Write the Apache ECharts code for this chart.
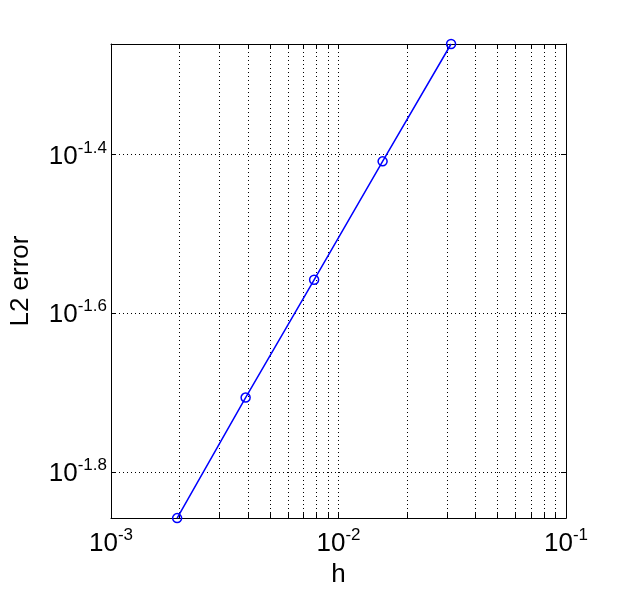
<!DOCTYPE html>
<html>
<head>
<meta charset="utf-8">
<script src="https://cdn.jsdelivr.net/npm/echarts@6/dist/echarts.min.js"></script>
<style>
  html, body { margin: 0; padding: 0; background: #fff; }
  #chart { width: 625px; height: 593px; }
</style>
</head>
<body>
<div id="chart"></div>
<script>
// mesh size h and the L2 error
var hValues = [0.001953, 0.003906, 0.007813, 0.015625, 0.03125];
var l2Error = [0.01386, 0.01966, 0.02767, 0.03901, 0.05483];

// tick positions, as log10 of the value
var xMajorTicks = [-3, -2, -1];
var xMinorMantissa = [2, 3, 4, 5, 6, 7, 8, 9];
var yMajorTicks = [-1.8, -1.6, -1.4];

var FONT = 'Liberation Sans';

var xTicks = [];
xMajorTicks.forEach(function (e) {
    xTicks.push(e);
    if (e < -1) {
        xMinorMantissa.forEach(function (m) { xTicks.push(e + Math.log10(m)); });
    }
});

var points = hValues.map(function (h, i) {
    return [Math.log10(h), Math.log10(l2Error[i])];
});
var yMin = Math.log10(Math.min.apply(null, l2Error));
var yMax = Math.log10(Math.max.apply(null, l2Error));

function powLabel(v) {
    var s = String(Math.round(v * 10) / 10);
    return '{b|10}{s|' + s + '}';
}
var richPow = {
    b: { fontFamily: FONT, fontSize: 26, color: '#000', lineHeight: 30, verticalAlign: 'bottom' },
    s: { fontFamily: FONT, fontSize: 17, color: '#000', lineHeight: 5, verticalAlign: 'top' }
};

var frameLine = { show: true, onZero: false, lineStyle: { color: '#000', width: 1 } };
var gridDots = { show: true, lineStyle: { color: '#000', width: 1, type: [1, 3] } };

var chart = echarts.init(document.getElementById('chart'));
chart.setOption({
    backgroundColor: '#fff',
    animation: false,
    grid: { left: 106, right: 59, top: 44, bottom: 73 },
    xAxis: [{
        type: 'value', min: -3, max: -1, position: 'bottom',
        axisLine: frameLine,
        axisTick: { show: true, inside: true, length: 5, customValues: xTicks, lineStyle: { color: '#000' } },
        axisLabel: { customValues: xMajorTicks, formatter: powLabel, rich: richPow, margin: 9 },
        splitLine: gridDots,
        name: 'h', nameLocation: 'middle', nameGap: 32,
        nameTextStyle: { fontFamily: FONT, fontSize: 26, color: '#000' }
    }, {
        type: 'value', min: -3, max: -1, position: 'top',
        axisLine: frameLine,
        axisTick: { show: true, inside: true, length: 5, customValues: xTicks, lineStyle: { color: '#000' } },
        axisLabel: { show: false },
        splitLine: { show: false }
    }],
    yAxis: [{
        type: 'value', min: yMin, max: yMax, position: 'left',
        axisLine: frameLine,
        axisTick: { show: true, inside: true, length: 5, customValues: yMajorTicks, lineStyle: { color: '#000' } },
        axisLabel: { customValues: yMajorTicks, formatter: powLabel, rich: richPow, margin: 4 },
        splitLine: gridDots,
        name: 'L2 error', nameLocation: 'middle', nameGap: 77, nameRotate: 90,
        nameTextStyle: { fontFamily: FONT, fontSize: 26, color: '#000' }
    }, {
        type: 'value', min: yMin, max: yMax, position: 'right',
        axisLine: frameLine,
        axisTick: { show: true, inside: true, length: 5, customValues: yMajorTicks, lineStyle: { color: '#000' } },
        axisLabel: { show: false },
        splitLine: { show: false }
    }],
    series: [{
        type: 'line',
        data: points,
        clip: false,
        symbol: 'circle',
        symbolSize: 9,
        itemStyle: { color: 'rgba(0,0,0,0)', borderColor: '#0000ff', borderWidth: 1.5 },
        lineStyle: { color: '#0000ff', width: 1.5 }
    }]
});
</script>
</body>
</html>
